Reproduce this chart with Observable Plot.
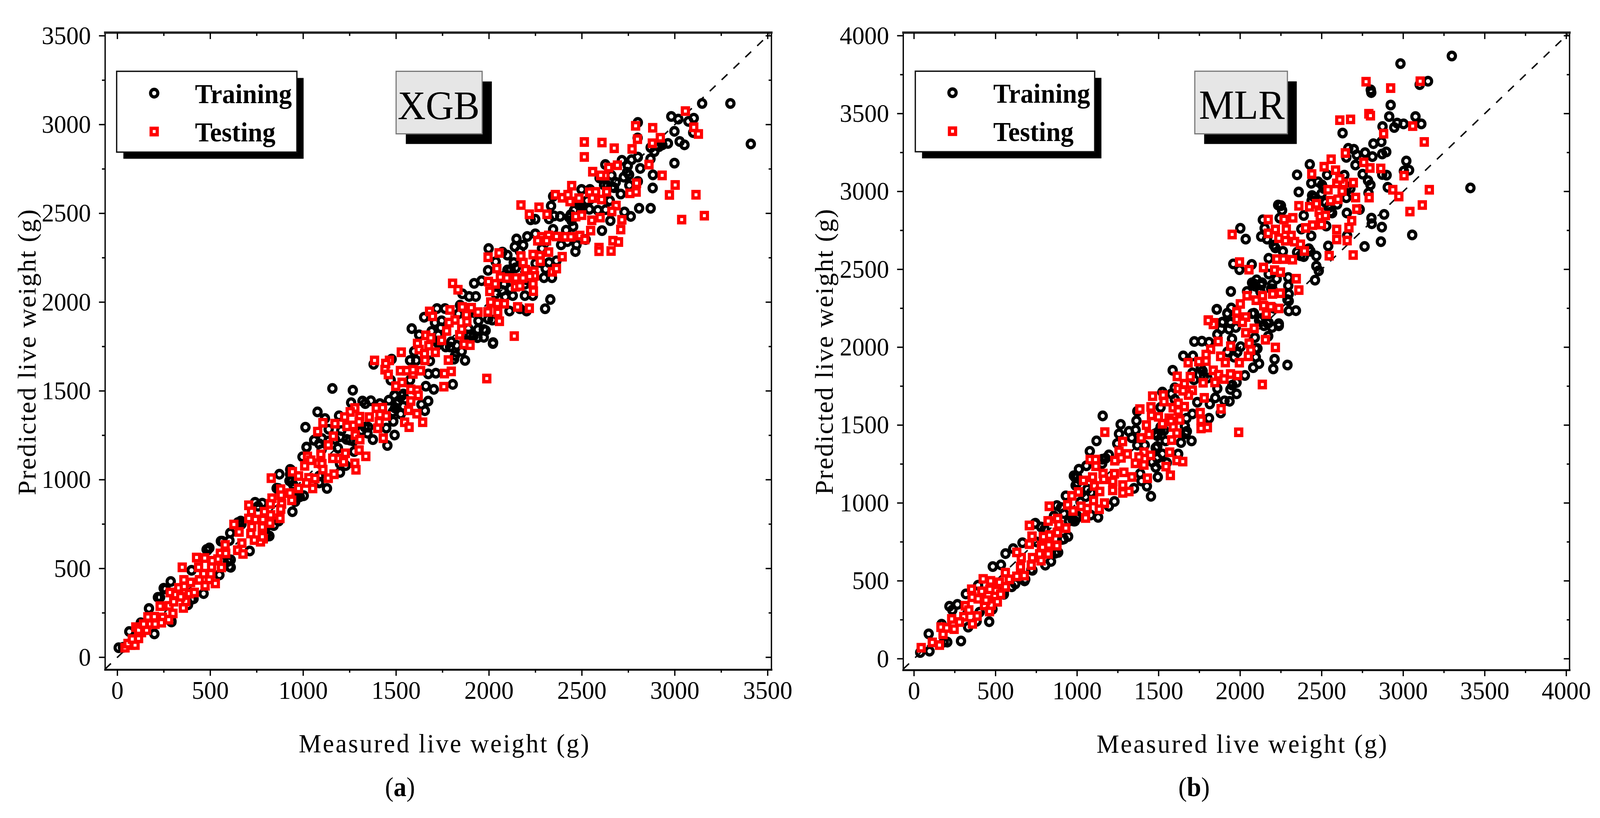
<!DOCTYPE html>
<html><head><meta charset="utf-8">
<script src="https://cdn.jsdelivr.net/npm/d3@7"></script>
<script src="https://cdn.jsdelivr.net/npm/@observablehq/plot@0.6"></script>
<style>
html,body{margin:0;padding:0;background:#fff;overflow:hidden}
#page{position:relative;width:4284px;height:2094px;overflow:hidden;font-family:"Liberation Serif",serif;transform-origin:0 0}
#page svg{position:absolute;top:0}
.cap{position:absolute;top:1975px;font-size:69px;line-height:80px;transform:translateX(-50%);color:#000}
</style></head><body><div id="page"></div>
<script>
const xLabel = "Measured live weight (g)";
const yLabel = "Predicted live weight (g)";
const seriesNames = ["Training","Testing"];

const xgbTraining = [[3147,3119],[3299,3119],[3409,2891],[2981,3046],[3019,3031],[3073,3018],[3102,3036],[2801,3012],[2998,2962],[2800,2925],[3099,2955],[2963,2894],[3026,2905],[3052,2886],[2890,2848],[2870,2871],[2906,2881],[2869,2807],[2998,2783],[2801,2817],[2767,2802],[2715,2799],[2626,2775],[2747,2768],[2814,2753],[2743,2732],[2754,2717],[2659,2714],[2725,2704],[2882,2717],[2595,2699],[2637,2657],[2619,2660],[2801,2680],[2755,2658],[2881,2643],[2664,2650],[2498,2635],[2543,2635],[2345,2596],[2709,2609],[2650,2572],[2529,2572],[2498,2542],[2540,2523],[2586,2518],[2628,2521],[2334,2542],[2808,2529],[2870,2529],[2729,2508],[2763,2483],[2653,2459],[2458,2518],[2440,2493],[2444,2459],[2350,2486],[2383,2483],[2323,2469],[2249,2467],[2224,2464],[2453,2426],[2345,2410],[2415,2405],[2249,2385],[2206,2370],[2148,2356],[2608,2403],[2520,2353],[2388,2323],[2422,2341],[2471,2324],[2465,2285],[2184,2321],[2139,2312],[1998,2302],[2072,2282],[2099,2265],[2166,2287],[2285,2302],[2363,2233],[2036,2228],[2133,2223],[2251,2218],[2323,2223],[1995,2179],[2099,2181],[2305,2189],[2296,2138],[2339,2138],[2081,2101],[2193,2101],[2128,2037],[2087,2030],[2193,2037],[2236,2037],[2330,2015],[2302,1963],[2110,1950],[2166,1963],[2202,1950],[2018,1899],[2022,1772],[1982,1840],
[1920,2106],[1857,2047],[1893,2032],[1929,2032],[1960,2121],[1651,1915],[1720,1964],[1763,1964],[1844,1983],[1584,1851],[1691,1836],[1741,1856],[1624,1816],[1889,1851],[1940,1846],[1972,1846],[1938,1800],[1972,1802],[2021,1767],[1797,1777],[1767,1748],[1853,1723],[1812,1679],[1871,1672],[1597,1723],[1575,1672],[1608,1672],[1682,1669],[1379,1650],[1476,1679],[1673,1596],[1714,1600],[1660,1527],[1703,1509],[1805,1537],[1471,1561],[1575,1561],[1157,1514],[1267,1504],[1258,1434],[1319,1443],[1334,1429],[1364,1445],[1413,1429],[1461,1448],[1491,1476],[1503,1429],[1539,1483],[1673,1443],[1636,1424],[1482,1382],[1525,1370],[1655,1389],[1077,1382],[1117,1345],[1193,1360],[1012,1296],[1137,1284],[1485,1329],[1447,1291],[1346,1262],[1492,1252],[1375,1226],[1453,1193],[1059,1223],[1101,1232],[1205,1277],[1198,1242],[1252,1223],[1018,1183],[1187,1178],[1274,1159],[1086,1203],[996,1129],[933,1056],[872,1031],[1198,1041],[1229,1080],[1128,951],[1086,982],[982,904],[866,951],[942,820],[946,972],[960,899],[816,746],[792,673],
[170,275],[64,145],[199,132],[30,56],[287,427],[260,385],[230,338],[399,490],[484,603],[564,654],[607,700],[712,599],[595,540],[610,507],[549,464],[464,359],[399,326],[291,199],[741,873],[803,692],[841,742],[980,906],[930,1058],[1018,1184],[1059,1222],[857,952],[664,767],[780,868],[926,994],[1087,986],[126,195],
[7,54],[218,338],[249,389],[291,204],[410,330],[380,296],[603,511],[610,549],[572,540],[480,607],[495,616],[649,759],[668,750],[603,658],[557,654],[818,683],[868,767],[757,851],[934,994],[957,877],[1003,910],
[1898,1816],[1916,1807],[1880,1816],[1530,1473],[1548,1453],[1512,1443],[1539,1414],[1494,1404],[1332,1296],[1314,1277],[1350,1296],[1270,1218],[1234,1227],[1171,1227],[1135,1218],[1099,1169],[938,992],[929,1031],[1086,1021],[1198,1090],[1817,1699],[1709,1748],[1727,1767],[1790,1748],[1826,1757],[1727,1816],[1745,1895],[1709,1885],[1835,1934],[1889,1934],[1943,1895],[1996,1905],
[2915,2876],[2933,2886],[2484,2547],[2502,2527],[2431,2478],[2682,2675],[2673,2645],[2206,2125],[2144,2194],[2117,2184],[2278,2223],[2036,2047],[2072,2066],[2117,2076],[2090,2154]];

const xgbTesting = [[2513,2902],[2513,2818],[2608,2899],[2674,2867],[2770,2863],[2789,2993],[2881,2982],[2799,2918],[2879,2895],[2922,2926],[3057,3076],[3102,2985],[3127,2947],[2861,2775],[2691,2771],[2644,2758],[2558,2735],[2624,2713],[2601,2714],[2932,2714],[2794,2670],[2792,2621],[2758,2613],[3002,2660],[2971,2604],[3114,2605],[2445,2656],[2357,2605],[2395,2588],[2425,2605],[2436,2567],[2484,2586],[2541,2619],[2574,2621],[2633,2622],[2556,2586],[2606,2578],[2684,2544],[2661,2511],[2172,2547],[2269,2534],[2217,2495],[2312,2495],[2467,2482],[2499,2490],[2553,2461],[2598,2476],[2715,2464],[2709,2409],[2547,2403],[3037,2465],[3159,2487],[2283,2368],[2321,2376],[2363,2370],[2410,2368],[2441,2368],[2489,2375],[2516,2353],[2262,2346],[2310,2346],[2667,2346],[2697,2339],[2592,2307],[2592,2287],[2657,2288],[2394,2256],[2321,2282],[2237,2268],[2274,2262],[2276,2231],[2172,2260],[2184,2223],[2054,2277],[1995,2253],[2042,2189],[2196,2183],[2242,2174],[2245,2148],[2341,2171],[2363,2189],[2061,2141],[2096,2136],[2144,2136],[2183,2136],[2219,2145],[2034,2103],[1997,2116],[2142,2087],[2166,2091],[2237,2103],[2239,2062],[2004,2061],[2009,2000],[2045,1993],[2083,1991],[2154,1973],[2217,1966],[1994,1945],[2047,1942],[2056,1893],[2136,1809],
[1804,2106],[1833,2070],[1680,1948],[1696,1920],[1790,1956],[1856,1973],[1905,1969],[1878,1929],[1941,1944],[1881,1890],[1817,1900],[1785,1885],[1772,1838],[1745,1785],[1842,1816],[1853,1848],[1866,1762],[1898,1758],[1660,1813],[1687,1799],[1615,1767],[1676,1755],[1624,1733],[1711,1718],[1653,1710],[1528,1718],[1655,1672],[1781,1674],[1384,1672],[1464,1672],[1444,1654],[1440,1620],[1458,1593],[1523,1614],[1557,1614],[1591,1596],[1591,1620],[1632,1614],[1760,1598],[1797,1610],[1532,1548],[1498,1527],[1579,1509],[1613,1504],[1619,1475],[1757,1524],[1988,1570],[1579,1443],[1567,1391],[1612,1372],[1546,1324],[1570,1296],[1643,1324],[1393,1403],[1427,1406],[1413,1367],[1447,1359],[1356,1353],[1409,1326],[1401,1290],[1431,1234],[1278,1404],[1253,1382],[1223,1353],[1304,1355],[1235,1301],[1270,1306],[1301,1326],[1280,1252],[1305,1226],[1106,1321],[1171,1316],[1078,1271],[1162,1245],[1135,1196],[1095,1143],[1159,1121],[1227,1149],[1193,1120],[1217,1101],[1301,1167],[1337,1132],[1278,1093],[1284,1056],[1023,1131],[1041,1110],[1008,1078],[1081,1093],[1101,1090],[1106,1057],[942,1045],[828,1009],[975,1021],[1030,1011],[1063,1007],[1018,982],[1135,1009],[1166,1031],[975,951],[1051,951],[879,947],[929,925],[938,884],[882,913],[832,896],[884,864],[879,835],[823,864],[791,820],[825,802],[875,783],[821,756],[783,776],[780,732],[785,668],
[41,54],[72,69],[95,69],[114,107],[130,140],[99,170],[164,227],[199,229],[178,187],[157,153],[243,225],[230,288],[278,290],[303,313],[299,247],[276,212],[355,278],[368,315],[284,365],[314,353],[341,341],[330,391],[360,399],[387,359],[414,365],[358,436],[394,422],[441,436],[472,403],[527,416],[494,439],[349,507],[426,562],[470,559],[437,507],[507,508],[560,506],[464,471],[503,471],[580,633],[554,585],[583,585],[647,603],[670,643],[676,582],[541,553],[510,544],[627,748],[655,706],[718,697],[737,660],[770,651],[780,679],[723,736],[780,734],[707,782],[743,776],[707,856],[722,822],[57,77],[80,103],[114,153],[203,187],[237,195],[141,187]];

const mlrTraining = [[3298,3870],[2983,3821],[3152,3708],[3101,3686],[2801,3652],[2804,3635],[2923,3555],[2914,3481],[3075,3481],[3111,3434],[2963,3439],[3002,3434],[2945,3411],[2873,3417],[2628,3375],[2866,3319],[2817,3307],[2896,3254],[2871,3241],[2663,3277],[2697,3271],[2715,3235],[2766,3249],[2811,3224],[2651,3219],[2707,3170],[2427,3174],[2349,3107],[2533,3107],[2639,3105],[2751,3111],[2898,3105],[3019,3196],[3004,3131],[3036,3137],[2871,3109],[2784,3070],[2799,3042],[2478,3062],[2436,3053],[2359,2997],[2905,3027],[2787,2991],[2499,2986],[2456,2963],[2651,2960],[2438,2941],[2595,2918],[2546,2907],[2233,2913],[2250,2909],[2257,2879],[2554,2868],[2733,2885],[2654,2862],[2883,2853],[2805,2829],[2807,2793],[2869,2771],[2139,2818],[2242,2829],[2390,2846],[2528,2778],[2150,2764],[2375,2759],[2001,2764],[2034,2694],[2129,2711],[2165,2694],[2436,2715],[2656,2717],[3055,2721],[3412,3023],[2863,2678],[2763,2647],[2540,2650],[2206,2655],[2262,2616],[2349,2610],[2421,2633],[2467,2586],[2369,2588],[2175,2571],[1958,2535],[1996,2498],[2071,2532],[2467,2521],[2482,2491],[2459,2431],[2175,2470],[2101,2433],[2224,2439],[2295,2448],[2295,2395],[1943,2358],[2042,2358],[2129,2398],[2190,2375],[2298,2342],[2298,2297],[2298,2233],[2342,2235],[1856,2243],[1921,2218],[1945,2252],[2085,2218],[2129,2185],[1894,2162],[1940,2162],[2175,2157],[2237,2151],
[1857,2244],[1922,2216],[1889,2160],[1942,2155],[1973,2127],[1883,2118],[1932,2116],[1860,2082],[1950,2054],[1719,2037],[1765,2039],[1809,2032],[2090,2062],[2095,1992],[2237,2138],[2196,2127],[2167,2155],[2172,2071],[2211,1923],[2203,1861],[2290,1886],[2116,1895],[2080,1869],[2029,1819],[1978,1774],[1651,1944],[1710,1944],[1770,1847],[1586,1852],[1707,1836],[1860,1735],[1940,1729],[1978,1701],[1847,1675],[1935,1653],[1904,1656],[1814,1636],[1737,1647],[1599,1740],[1579,1701],[1599,1665],[1523,1712],[1512,1614],[1881,1578],[1707,1572],[1369,1589],[1809,1544],[1671,1544],[1364,1528],[1267,1505],[1157,1559],[1318,1460],[1359,1469],[1257,1444],[1335,1419],[1477,1444],[1512,1466],[1661,1494],[1673,1460],[1702,1399],[1637,1388],[1119,1399],[1369,1371],[1415,1371],[1492,1363],[1246,1382],[1523,1315],[1620,1315],[1078,1332],[1195,1309],[1154,1281],[1057,1239],[1011,1217],[1482,1229],[1550,1259],[1387,1189],[1495,1167],[1001,1169],[991,1113],[1395,1141],[1428,1108],[1349,1094],[1453,1043],[931,1046],[1062,1089],[1052,1040],[1229,1010],[1195,979],[876,984],[1129,908],[1083,923],[986,884],[740,867],[858,917],[801,833],[945,785],[909,766],
[461,238],[288,114],[90,160],[169,222],[266,349],[235,313],[318,416],[561,675],[608,707],[665,745],[483,592],[533,603],[744,870],[866,678],[805,601],[719,572],[678,500],[599,462],[332,203],[204,107],[38,40],[972,894],[551,433],[621,481],[402,299],[481,318],
[980,884],[998,904],[919,932],[901,971],[989,1163],[1086,1067],[779,846],[752,750],[726,568],[682,510],[551,414],[393,472],[384,241],[217,337],[182,107],[95,49],[840,625],[884,683],[919,769],
[1512,1488],[1533,1466],[1492,1432],[1482,1354],[1543,1399],[1666,1444],[1492,1287],[1512,1253],[1461,1264],[1175,1287],[1154,1253],[1001,1130],[980,1175],[1021,1007],[1001,917],[950,884],[1963,1936],[1983,1970],[2003,2004],[1922,1970],[1758,1869],[1778,1813],[1799,1802],[1717,1791],[1952,1757],[2096,1936],[2106,1992],[2116,2172],[2147,2138],[2208,2250],[2085,2407],[2126,2407],[2198,2373],[2290,2306],[2075,2216],[2126,2183],
[2073,2414],[2093,2392],[2124,2358],[2196,2403],[2523,2930],[2543,2896],[2564,2862],[2513,3019],[2502,3042],[2441,2974],[2656,3030],[2676,3019],[2216,2638],[2390,2582],[2431,2616],[2134,2414]];

const mlrTesting = [[2772,3705],[2923,3664],[3104,3708],[2611,3458],[2677,3463],[2789,3499],[2799,3487],[2880,3371],[3058,3420],[3129,3318],[2645,3247],[2558,3207],[2515,3159],[2585,3137],[2439,3112],[2758,3187],[2796,3151],[2862,3148],[3005,3102],[2694,3057],[2634,3052],[2592,3052],[2611,3081],[2539,3011],[2625,3002],[2554,2941],[2600,2950],[2708,2961],[2791,2961],[2936,3011],[2973,2968],[3160,3011],[3117,2913],[3041,2871],[2360,2908],[2425,2902],[2468,2921],[2715,2887],[2484,2868],[2491,2839],[2523,2846],[2684,2812],[2323,2831],[2269,2820],[2172,2820],[2444,2784],[2499,2788],[2401,2766],[2283,2758],[2216,2756],[2667,2768],[2592,2756],[2172,2731],[1951,2724],[2592,2692],[2656,2685],[2313,2717],[2237,2700],[2278,2684],[2334,2678],[2370,2661],[2394,2618],[2546,2588],[2693,2592],[2224,2566],[2265,2566],[2321,2562],[1996,2547],[2054,2498],[2143,2512],[2211,2495],[2247,2482],[2344,2440],[2360,2367],[2042,2331],[2098,2302],[2137,2331],[2199,2342],[2247,2347],[2001,2278],[2144,2267],[2188,2260],[2237,2249],[1979,2227],[2034,2194],[2160,2213],[1805,2174],[1838,2157],[1981,2179],
[1835,2147],[1804,2172],[2014,2160],[2034,2093],[2086,2121],[1865,2037],[1942,2007],[2055,2026],[2155,2048],[2216,1999],[2065,1981],[2050,1942],[1819,1987],[1791,1953],[1791,1911],[1746,1908],[1681,1901],[1880,1942],[1909,1902],[1995,1901],[1835,1852],[1868,1824],[1941,1828],[1985,1819],[1901,1796],[1845,1774],[1773,1772],[1694,1811],[1614,1813],[1658,1766],[1620,1735],[1707,1724],[1683,1693],[1650,1721],[2136,1761],[1780,1675],[1463,1686],[1528,1693],[1533,1651],[1453,1617],[1385,1603],[1589,1612],[1620,1640],[1658,1619],[1620,1591],[1883,1605],[1755,1580],[1760,1531],[1456,1563],[1499,1553],[1564,1544],[1630,1533],[1523,1509],[1576,1524],[1589,1488],[1425,1500],[1760,1479],[1799,1485],[1991,1454],[1612,1449],[1441,1440],[1393,1418],[1170,1455],[1580,1404],[1279,1395],[1568,1326],[1257,1332],[1308,1315],[1270,1290],[1410,1326],[1451,1306],[1379,1295],[1231,1272],[1080,1279],[1113,1279],[1115,1236],[1357,1255],[1410,1244],[1612,1273],[1648,1266],[1545,1234],[1572,1178],[1431,1159],[1159,1189],[1229,1188],[1287,1197],[1336,1167],[1039,1145],[1095,1166],[1163,1152],[1219,1139],[1106,1110],[1280,1115],[1218,1081],[1280,1065],[1318,1074],[1139,1074],[1008,1071],[968,1046],[942,988],[829,979],[1101,1016],[1168,999],[1024,979],[1062,964],[975,949],[1136,960],[1052,904],[822,885],[880,900],[888,856],[929,839],[709,856],[878,811],[832,794],[793,783],[723,786],[827,732],[876,729],[781,727],
[44,71],[112,105],[156,88],[178,157],[165,203],[200,198],[246,190],[231,256],[305,270],[358,224],[279,236],[387,275],[314,340],[336,313],[432,342],[463,304],[474,345],[356,395],[393,385],[441,376],[415,433],[353,446],[465,446],[503,438],[524,491],[561,462],[424,513],[470,500],[496,400],[531,414],[511,366],[560,553],[584,510],[630,529],[653,590],[676,534],[719,601],[726,649],[770,673],[823,673],[779,630],[658,649],[630,683],[707,736],[724,786],[794,784],[707,856],[788,716],[827,731],[876,726],[831,793],[880,810],[931,839],[823,884],[881,899],[888,860]];

const xgbPanel = {
  name:"XGB", left:0, width:2142, marginLeft:281, marginRight:77, marginTop:83, marginBottom:246,
  xDomain:[-66,3520], yDomain:[-70,3518], major:[0,500,1000,1500,2000,2500,3000,3500],
  minor:[250,750,1250,1750,2250,2750,3250], training:xgbTraining, testing:xgbTesting,
  legendBox:[-3,967,2844,3299], legendX:198, legendTextX:418, legendTrainY:3177, legendTestY:2961, labelTrainY:3170, labelTestY:2955,
  nameBox:[1501,1964,2947,3299], nameX:1729, nameY:3105, nameSize:104, nameShadow:[26,26],
  xTitleAt:1761, yTitleAt:1720, yTitleDx:-208
};
const mlrPanel = {
  name:"MLR", left:2142, width:2142, marginLeft:276, marginRight:82, marginTop:83, marginBottom:245,
  xDomain:[-66,4020], yDomain:[-73,4020], major:[0,500,1000,1500,2000,2500,3000,3500,4000],
  minor:[250,750,1250,1750,2250,2750,3250,3750], training:mlrTraining, testing:mlrTesting,
  legendBox:[9,1109,3254,3771], legendX:236, legendTextX:486, legendTrainY:3634, legendTestY:3387, labelTrainY:3626, labelTestY:3380,
  nameBox:[1723,2291,3369,3771], nameX:2010, nameY:3552, nameSize:106, nameShadow:[25,26],
  xTitleAt:2014, yTitleAt:1972, yTitleDx:-210
};

function spaced(px){
  return (index,scales,values,dims,context,next)=>{
    const g = next(index,scales,values,dims,context);
    g.style.letterSpacing = px;
    return g;
  };
}
function panel(p){
  const [lx1,lx2,ly1,ly2] = p.legendBox, [nx1,nx2,ny1,ny2] = p.nameBox;
  const legendRect = [{x1:lx1,x2:lx2,y1:ly1,y2:ly2}], nameRect = [{x1:nx1,x2:nx2,y1:ny1,y2:ny2}];
  const rectCh = {x1:"x1",x2:"x2",y1:"y1",y2:"y2"};
  const lo = Math.max(p.xDomain[0],p.yDomain[0]), hi = p.major[p.major.length-1]+10;
  const ring = {x:d=>d[0],y:d=>d[1],symbol:"circle",r:9.7,stroke:"#000",strokeWidth:8.4,fill:"none"};
  const box = {x:d=>d[0],y:d=>d[1],symbol:"square",r:9.2,stroke:"#f00",strokeWidth:8.6,fill:"#fff"};
  const tick = {fontSize:66,strokeWidth:3.5,label:null};
  return Plot.plot({
    width:p.width, height:1960, marginLeft:p.marginLeft, marginRight:p.marginRight, marginTop:p.marginTop, marginBottom:p.marginBottom,
    style:{fontFamily:"'Liberation Serif',serif",background:"transparent",color:"#000",overflow:"visible",left:p.left+"px"},
    x:{domain:p.xDomain,axis:null}, y:{domain:p.yDomain,axis:null},
    marks:[
      Plot.link([[lo,hi]],{x1:d=>d[0],y1:d=>d[0],x2:d=>d[1],y2:d=>d[1],stroke:"#000",strokeWidth:3.8,strokeDasharray:"21,22"}),
      Plot.dot(p.training,ring),
      Plot.dot(p.testing,box),
      Plot.rect(legendRect,{...rectCh,fill:"#000",dx:18,dy:17}),
      Plot.rect(legendRect,{...rectCh,fill:"#fff",stroke:"#111",strokeWidth:3.5}),
      Plot.rect(nameRect,{...rectCh,fill:"#000",dx:p.nameShadow[0],dy:p.nameShadow[1]}),
      Plot.rect(nameRect,{...rectCh,fill:"#e6e6e6",stroke:"#777",strokeWidth:3}),
      Plot.text([p.name],{x:p.nameX,y:p.nameY,text:d=>d,fontSize:p.nameSize,fill:"#000"}),
      Plot.dot([[p.legendX,p.legendTrainY]],ring),
      Plot.dot([[p.legendX,p.legendTestY]],box),
      Plot.text([seriesNames[0]],{x:p.legendTextX,y:p.labelTrainY,text:d=>d,fontSize:70,fontWeight:"bold",textAnchor:"start",fill:"#000"}),
      Plot.text([seriesNames[1]],{x:p.legendTextX,y:p.labelTestY,text:d=>d,fontSize:70,fontWeight:"bold",textAnchor:"start",fill:"#000"}),
      Plot.frame({stroke:"#000",strokeWidth:3.5}),
      Plot.frame({anchor:"top",stroke:"#222",strokeWidth:6}),
      Plot.frame({anchor:"bottom",stroke:"#111",strokeWidth:5}),
      Plot.axisX({...tick,anchor:"bottom",ticks:p.major,tickSize:16,tickPadding:12,tickFormat:d=>String(d)}),
      Plot.axisX({...tick,anchor:"bottom",ticks:p.minor,tickSize:8,fill:"none"}),
      Plot.axisX({...tick,anchor:"top",ticks:p.major,tickSize:-16,fill:"none"}),
      Plot.axisX({...tick,anchor:"top",ticks:p.minor,tickSize:-8,fill:"none"}),
      Plot.axisY({...tick,anchor:"left",ticks:p.major,tickSize:16,tickPadding:22,tickFormat:d=>String(d)}),
      Plot.axisY({...tick,anchor:"left",ticks:p.minor,tickSize:8,fill:"none"}),
      Plot.axisY({...tick,anchor:"right",ticks:p.major,tickSize:-16,fill:"none"}),
      Plot.axisY({...tick,anchor:"right",ticks:p.minor,tickSize:-8,fill:"none"}),
      Plot.text([xLabel],{x:p.xTitleAt,frameAnchor:"bottom",dy:211,text:d=>d,fontSize:68,fill:"#000",render:spaced("4px")}),
      Plot.text([yLabel],{y:p.yTitleAt,frameAnchor:"left",textAnchor:"middle",dx:p.yTitleDx,rotate:-90,text:d=>d,fontSize:68,fill:"#000",render:spaced("2.4px")})
    ]
  });
}
const page = document.getElementById("page");
page.append(panel(xgbPanel), panel(mlrPanel));
[["a",1071],["b",3197]].forEach(([t,x])=>{
  const d=document.createElement("div");d.className="cap";d.style.left=x+"px";
  d.append("(");const b=document.createElement("b");b.textContent=t;d.append(b,")");page.append(d);
});
const fit = Math.min(1, window.innerWidth/4284);
page.style.transform = `scaleX(${fit})`;
</script></body></html>
